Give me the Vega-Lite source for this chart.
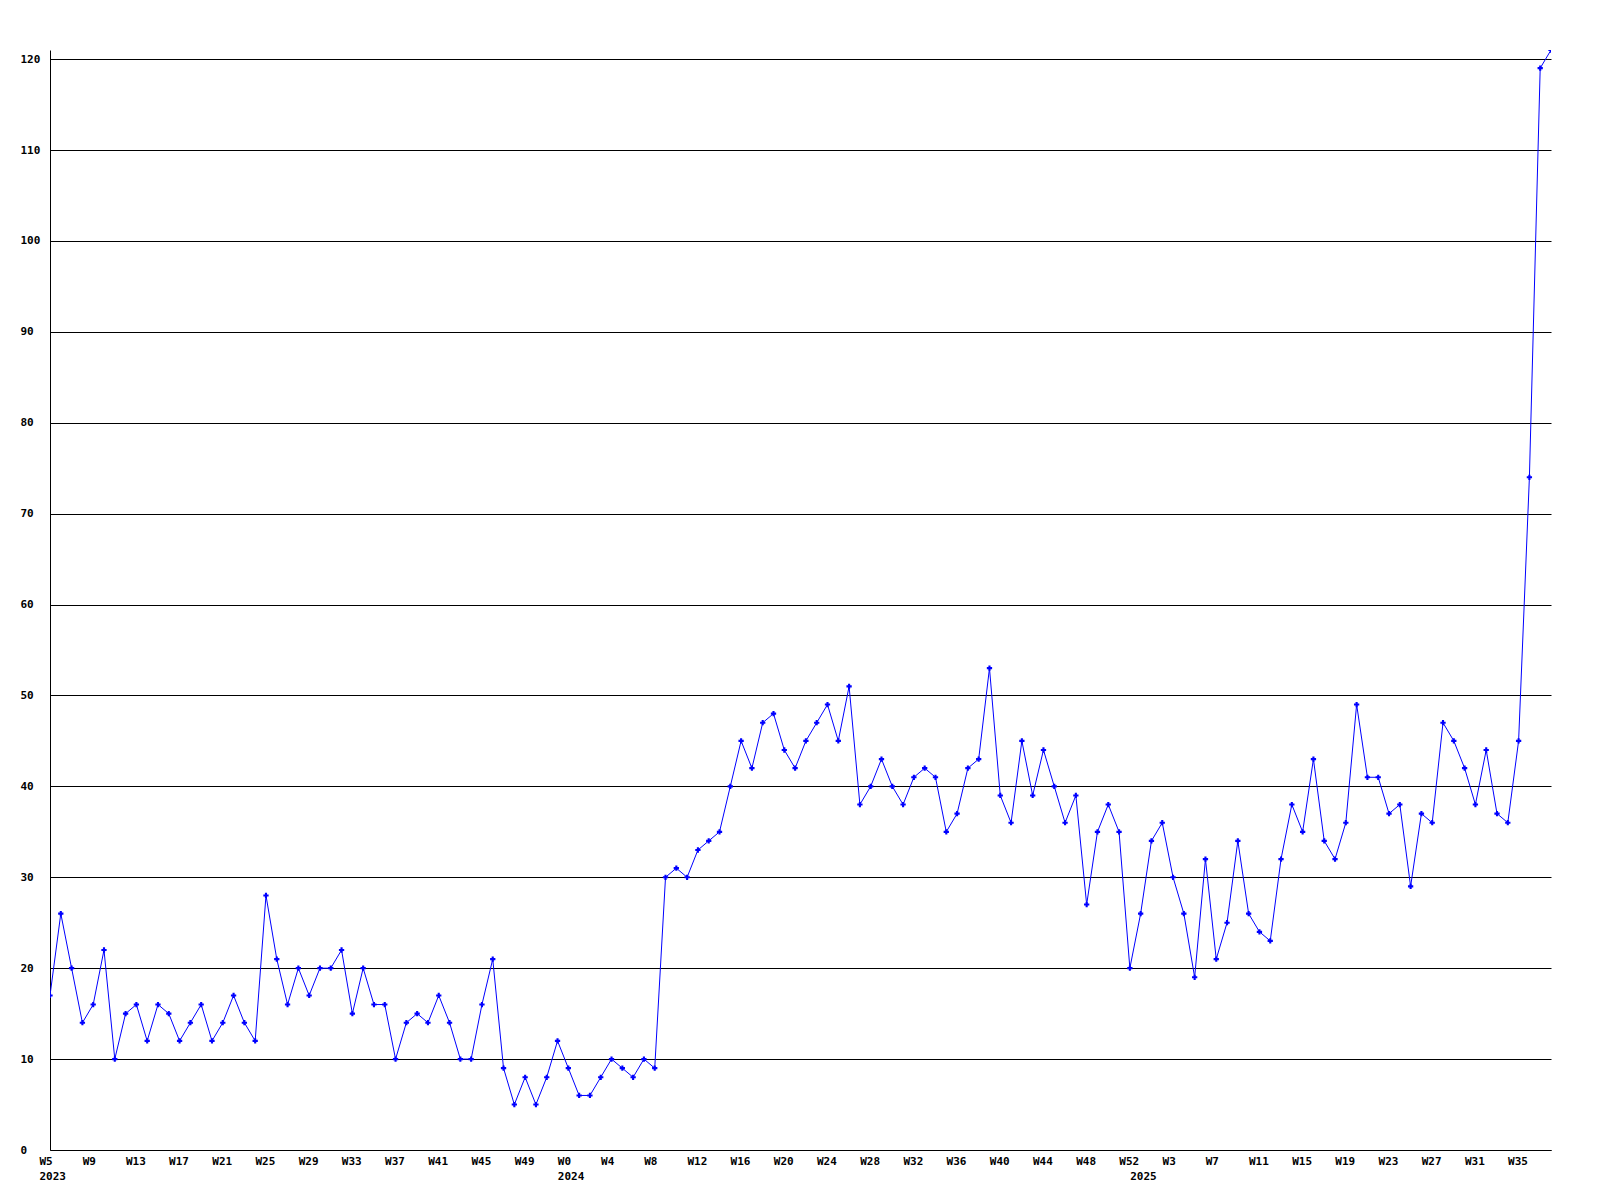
{
  "$schema": "https://vega.github.io/schema/vega-lite/v6.json",
  "width": 1501,
  "height": 1100,
  "autosize": {"type": "none"},
  "padding": {"left": 50, "top": 50, "right": 49, "bottom": 50},
  "background": "white",
  "config": {"view": {"stroke": null}},
  "data": {"values": [
    {"wk": "2023-W05", "v": 17}, {"wk": "2023-W06", "v": 26}, {"wk": "2023-W07", "v": 20}, {"wk": "2023-W08", "v": 14},
    {"wk": "2023-W09", "v": 16}, {"wk": "2023-W10", "v": 22}, {"wk": "2023-W11", "v": 10}, {"wk": "2023-W12", "v": 15},
    {"wk": "2023-W13", "v": 16}, {"wk": "2023-W14", "v": 12}, {"wk": "2023-W15", "v": 16}, {"wk": "2023-W16", "v": 15},
    {"wk": "2023-W17", "v": 12}, {"wk": "2023-W18", "v": 14}, {"wk": "2023-W19", "v": 16}, {"wk": "2023-W20", "v": 12},
    {"wk": "2023-W21", "v": 14}, {"wk": "2023-W22", "v": 17}, {"wk": "2023-W23", "v": 14}, {"wk": "2023-W24", "v": 12},
    {"wk": "2023-W25", "v": 28}, {"wk": "2023-W26", "v": 21}, {"wk": "2023-W27", "v": 16}, {"wk": "2023-W28", "v": 20},
    {"wk": "2023-W29", "v": 17}, {"wk": "2023-W30", "v": 20}, {"wk": "2023-W31", "v": 20}, {"wk": "2023-W32", "v": 22},
    {"wk": "2023-W33", "v": 15}, {"wk": "2023-W34", "v": 20}, {"wk": "2023-W35", "v": 16}, {"wk": "2023-W36", "v": 16},
    {"wk": "2023-W37", "v": 10}, {"wk": "2023-W38", "v": 14}, {"wk": "2023-W39", "v": 15}, {"wk": "2023-W40", "v": 14},
    {"wk": "2023-W41", "v": 17}, {"wk": "2023-W42", "v": 14}, {"wk": "2023-W43", "v": 10}, {"wk": "2023-W44", "v": 10},
    {"wk": "2023-W45", "v": 16}, {"wk": "2023-W46", "v": 21}, {"wk": "2023-W47", "v": 9}, {"wk": "2023-W48", "v": 5},
    {"wk": "2023-W49", "v": 8}, {"wk": "2023-W50", "v": 5}, {"wk": "2023-W51", "v": 8}, {"wk": "2023-W52", "v": 12},
    {"wk": "2024-W00", "v": 9}, {"wk": "2024-W01", "v": 6}, {"wk": "2024-W02", "v": 6}, {"wk": "2024-W03", "v": 8},
    {"wk": "2024-W04", "v": 10}, {"wk": "2024-W05", "v": 9}, {"wk": "2024-W06", "v": 8}, {"wk": "2024-W07", "v": 10},
    {"wk": "2024-W08", "v": 9}, {"wk": "2024-W09", "v": 30}, {"wk": "2024-W10", "v": 31}, {"wk": "2024-W11", "v": 30},
    {"wk": "2024-W12", "v": 33}, {"wk": "2024-W13", "v": 34}, {"wk": "2024-W14", "v": 35}, {"wk": "2024-W15", "v": 40},
    {"wk": "2024-W16", "v": 45}, {"wk": "2024-W17", "v": 42}, {"wk": "2024-W18", "v": 47}, {"wk": "2024-W19", "v": 48},
    {"wk": "2024-W20", "v": 44}, {"wk": "2024-W21", "v": 42}, {"wk": "2024-W22", "v": 45}, {"wk": "2024-W23", "v": 47},
    {"wk": "2024-W24", "v": 49}, {"wk": "2024-W25", "v": 45}, {"wk": "2024-W26", "v": 51}, {"wk": "2024-W27", "v": 38},
    {"wk": "2024-W28", "v": 40}, {"wk": "2024-W29", "v": 43}, {"wk": "2024-W30", "v": 40}, {"wk": "2024-W31", "v": 38},
    {"wk": "2024-W32", "v": 41}, {"wk": "2024-W33", "v": 42}, {"wk": "2024-W34", "v": 41}, {"wk": "2024-W35", "v": 35},
    {"wk": "2024-W36", "v": 37}, {"wk": "2024-W37", "v": 42}, {"wk": "2024-W38", "v": 43}, {"wk": "2024-W39", "v": 53},
    {"wk": "2024-W40", "v": 39}, {"wk": "2024-W41", "v": 36}, {"wk": "2024-W42", "v": 45}, {"wk": "2024-W43", "v": 39},
    {"wk": "2024-W44", "v": 44}, {"wk": "2024-W45", "v": 40}, {"wk": "2024-W46", "v": 36}, {"wk": "2024-W47", "v": 39},
    {"wk": "2024-W48", "v": 27}, {"wk": "2024-W49", "v": 35}, {"wk": "2024-W50", "v": 38}, {"wk": "2024-W51", "v": 35},
    {"wk": "2024-W52", "v": 20},
    {"wk": "2025-W00", "v": 26}, {"wk": "2025-W01", "v": 34}, {"wk": "2025-W02", "v": 36},
    {"wk": "2025-W03", "v": 30}, {"wk": "2025-W04", "v": 26}, {"wk": "2025-W05", "v": 19}, {"wk": "2025-W06", "v": 32},
    {"wk": "2025-W07", "v": 21}, {"wk": "2025-W08", "v": 25}, {"wk": "2025-W09", "v": 34}, {"wk": "2025-W10", "v": 26},
    {"wk": "2025-W11", "v": 24}, {"wk": "2025-W12", "v": 23}, {"wk": "2025-W13", "v": 32}, {"wk": "2025-W14", "v": 38},
    {"wk": "2025-W15", "v": 35}, {"wk": "2025-W16", "v": 43}, {"wk": "2025-W17", "v": 34}, {"wk": "2025-W18", "v": 32},
    {"wk": "2025-W19", "v": 36}, {"wk": "2025-W20", "v": 49}, {"wk": "2025-W21", "v": 41}, {"wk": "2025-W22", "v": 41},
    {"wk": "2025-W23", "v": 37}, {"wk": "2025-W24", "v": 38}, {"wk": "2025-W25", "v": 29}, {"wk": "2025-W26", "v": 37},
    {"wk": "2025-W27", "v": 36}, {"wk": "2025-W28", "v": 47}, {"wk": "2025-W29", "v": 45}, {"wk": "2025-W30", "v": 42},
    {"wk": "2025-W31", "v": 38}, {"wk": "2025-W32", "v": 44}, {"wk": "2025-W33", "v": 37}, {"wk": "2025-W34", "v": 36},
    {"wk": "2025-W35", "v": 45}, {"wk": "2025-W36", "v": 74}, {"wk": "2025-W37", "v": 119}, {"wk": "2025-W38", "v": 121}
  ]},
  "encoding": {
    "x": {
      "field": "wk", "type": "ordinal", "sort": null,
      "scale": {"type": "point", "padding": 0},
      "axis": {
        "title": null,
        "values": ["2023-W05", "2023-W09", "2023-W13", "2023-W17", "2023-W21", "2023-W25", "2023-W29", "2023-W33", "2023-W37", "2023-W41", "2023-W45", "2023-W49",
                   "2024-W00", "2024-W04", "2024-W08", "2024-W12", "2024-W16", "2024-W20", "2024-W24", "2024-W28", "2024-W32", "2024-W36", "2024-W40", "2024-W44", "2024-W48", "2024-W52",
                   "2025-W00", "2025-W03", "2025-W07", "2025-W11", "2025-W15", "2025-W19", "2025-W23", "2025-W27", "2025-W31", "2025-W35"],
        "labelExpr": "datum.value == '2025-W00' ? ['', '2025'] : ((datum.value == '2023-W05' || datum.value == '2024-W00') ? ['W' + parseInt(substring(datum.value, 6)), substring(datum.value, 0, 4)] : 'W' + parseInt(substring(datum.value, 6)))",
        "ticks": false,
        "tickSize": 0,
        "grid": false,
        "domainColor": "black",
        "domainWidth": 1,
        "labelAlign": "left",
        "labelBaseline": "top",
        "labelOffset": -11,
        "labelPadding": 5,
        "labelAngle": 0,
        "labelFont": "DejaVu Sans Mono",
        "labelFontWeight": "bold",
        "labelFontSize": 11,
        "labelColor": "black",
        "labelLineHeight": 15.5,
        "labelOverlap": false,
        "labelBound": false,
        "labelFlush": false
      }
    },
    "y": {
      "field": "v", "type": "quantitative",
      "scale": {"domain": [0, 121], "nice": false, "zero": true},
      "axis": {
        "title": null,
        "values": [0, 10, 20, 30, 40, 50, 60, 70, 80, 90, 100, 110, 120],
        "grid": true,
        "gridColor": "black",
        "gridOpacity": 1,
        "gridWidth": 1,
        "ticks": false,
        "tickSize": 0,
        "domainColor": "black",
        "domainWidth": 1,
        "labelAlign": "left",
        "labelBaseline": "middle",
        "labelPadding": 30,
        "labelFont": "DejaVu Sans Mono",
        "labelFontWeight": "bold",
        "labelFontSize": 11,
        "labelColor": "black",
        "labelOverlap": false,
        "labelFlush": false,
        "labelBound": false
      }
    }
  },
  "layer": [
    {"mark": {"type": "line", "color": "#0000ff", "strokeWidth": 1, "clip": true}},
    {"mark": {"type": "point", "shape": "cross", "filled": true, "size": 28, "color": "#0000ff", "opacity": 1, "clip": true}}
  ]
}
